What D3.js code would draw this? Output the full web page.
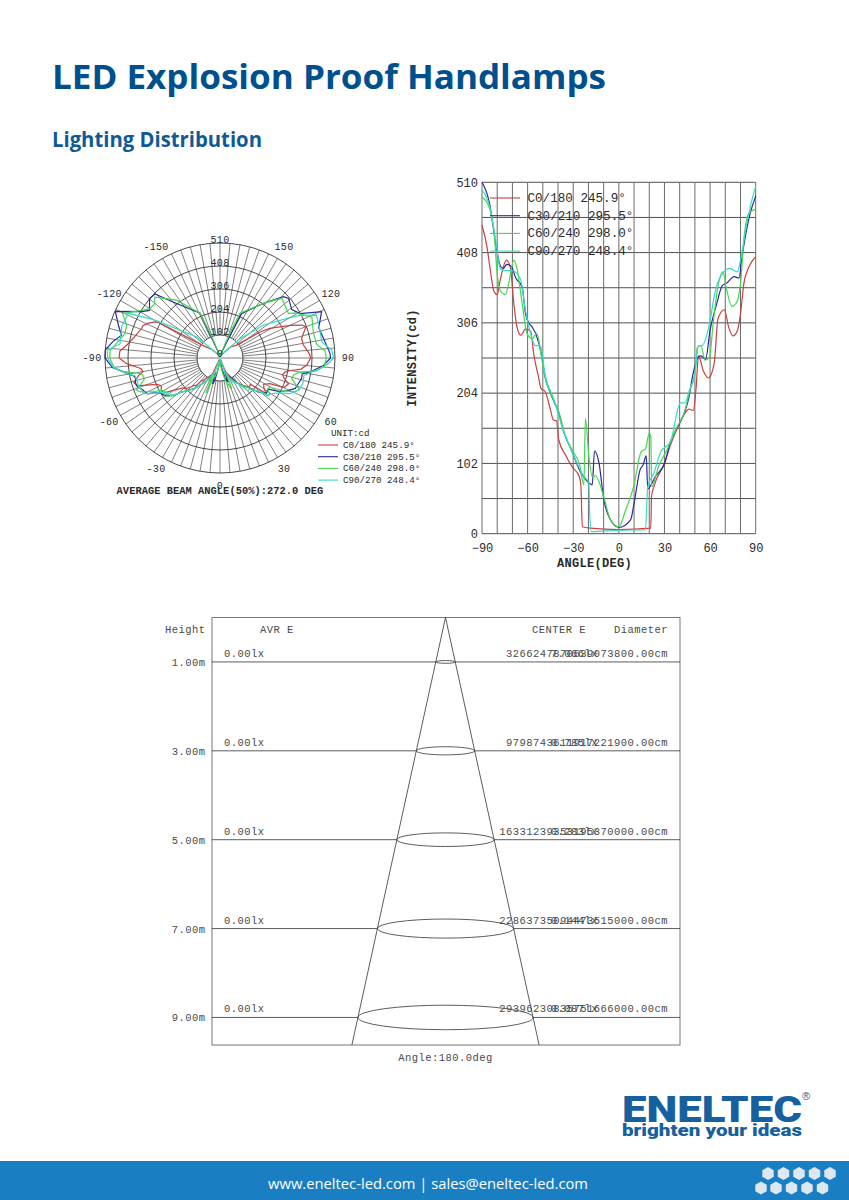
<!DOCTYPE html>
<html><head><meta charset="utf-8">
<script src="https://cdn.jsdelivr.net/npm/d3@7"></script>
<style>
html,body{margin:0;padding:0;background:#fff}
svg{display:block}
text{font-family:"Liberation Mono",monospace;fill:#2a2a2a}
</style></head><body>
<svg id="c" width="849" height="1200"></svg>
<script>
// ---------- data ----------
const seriesNames = ["C0/180 245.9°","C30/210 295.5°","C60/240 298.0°","C90/270 248.4°"];
const seriesColors = ["#c9403f","#2a2a9c","#45d650","#35dcc8"];
const intensityTicks = [0,102,204,306,408,510];
const intensityGrid = [0,51,102,153,204,255,306,357,408,459,510];
const angleTicks = [-90,-60,-30,0,30,60,90];
const angleGrid = [-90,-80,-70,-60,-50,-40,-30,-20,-10,0,10,20,30,40,50,60,70,80,90];

// Cartesian plot: angle -90..90
const anglesC0 = [-90,-86.7,-84.5,-82.3,-80,-78,-74,-71.4,-69,-67,-64.4,-61.5,-58,-56,-52.8,-51.2,-48.4,-45,-43,-41,-39.5,-35,-30.7,-26,-25,-24,-19,0,21,21.5,23,30,34,38.8,43.5,46,49,50.7,52.4,55.6,59,62.8,65.2,69.4,72.2,75,78,80,82.2,85.5,90];
const valuesC0 = [448,416,382,353,347,368,397,387,333,300,288,297,294,261,227,211,206,180,165,164,136,114,97,83,71,10,8,6,8,54,68,102,129,155,175,181,179,209,258,236,226,249,312,325,300,287,295,319,363,387,402];
const anglesC30 = [-90,-85,-81,-78,-76,-73.7,-70.4,-68,-63.6,-61.4,-59,-57,-53.8,-50.5,-49,-45,-39.5,-36,-30.7,-26,-23,-17.5,-16,-13,-10,-6.6,0,7.7,10,14,16,18,19,24,30,34,39.4,43,46,48,52.4,54,57,60,64.4,68,71,75.8,79,81,85.8,90];
const valuesC30 = [510,479,421,389,385,391,387,372,358,319,305,300,285,256,233,204,175,146,119,93,82,71,120,102,51,25,9,20,44,93,100,113,65,83,102,134,158,175,197,223,257,258,253,295,334,360,364,373,371,402,460,490];
const anglesC60 = [-90,-85,-82,-80,-78,-74.6,-72.5,-69,-67,-63.6,-60.3,-57,-54,-51,-49,-45,-39.5,-35,-29.5,-26,-23,-22,-19.7,-17.5,-15.3,-10,-5.5,0,4.4,10,14.7,17.5,20,21,21.6,26,31.7,38.3,43,46.8,50,51.5,54,56.7,59.6,62.2,65.5,68.4,71,74.3,77.5,80,82.4,85.5,90];
const valuesC60 = [489,472,436,377,353,347,363,397,385,334,290,283,291,258,231,204,177,141,117,102,71,167,112,83,84,54,20,10,34,71,119,123,146,141,68,97,122,155,175,209,232,270,273,252,256,309,363,380,353,330,336,363,431,465,471];
const anglesC90 = [-90,-85,-81,-78,-74.6,-70.4,-64.8,-61.4,-58,-55,-51.7,-48.4,-43,-37,-29.5,-23,-19.7,-19.2,-18,0,17.5,19,23,27.4,34,40.5,43.5,46.5,50,52.4,54.5,60,63,68,73,78,80,83,86.5,90];
const valuesC90 = [499,475,426,385,382,382,370,324,290,273,273,229,197,153,112,83,74,30,3,5,6,68,88,118,134,190,190,209,232,273,273,309,348,377,385,380,397,436,475,504];

// Polar plot, upper half: the -180..-90 and 90..180 parts
const upLeftAnglesC0 = [-180,-175,-137,-128,-120,-119,-116,-113,-111,-103,-99,-94];
const upLeftValuesC0 = [5,10,50,80,316,330,353,370,371,394,411,445];
const upRightAnglesC0 = [93,99,103.6,110,112,115,120.7,123,128,137,175,180];
const upRightValuesC0 = [396,374,372,406,390,343,257,214,93,65,10,5];
const upLeftAnglesC30 = [-180,-175,-156,-140,-134.6,-130,-124,-120.6,-114,-108,-103,-99,-94];
const upLeftValuesC30 = [5,12,217,324,405,408,377,404,508,474,448,479,510];
const upRightAnglesC30 = [92.4,99,107,114.5,119,124,131,134,141.6,154,156,176,180];
const upRightValuesC30 = [488,471,458,495,406,384,403,391,309,220,111,12,5];
const upLeftAnglesC60 = [-180,-175,-159,-156,-143,-133,-130,-125,-114.5,-109.5,-104.5,-98,-94];
const upLeftValuesC60 = [5,12,102,217,321,396,377,380,475,439,435,463,488];
const upRightAnglesC60 = [94,98,105,114,121,123,134,141.6,156,159,176,180];
const upRightValuesC60 = [467,433,429,446,389,362,381,309,217,102,12,5];
const upLeftAnglesC90 = [-180,-175,-132,-120,-116,-108,-98,-94];
const upLeftValuesC90 = [5,10,140,340,452,458,448,500];
const upRightAnglesC90 = [94,99,106,114,118,120,127,134,175,180];
const upRightValuesC90 = [497,457,460,468,402,360,241,123,10,5];

const polarAngleTicks = [0,30,60,90,120,150,-150,-120,-90,-60,-30];
const polarSpokes = d3.range(-180,180,5);

// Cone panel
const heights = [1,3,5,7,9];
const heightLabels = ["1.00m","3.00m","5.00m","7.00m","9.00m"];
const avgE = ["0.00lx","0.00lx","0.00lx","0.00lx","0.00lx"];
const centerE = ["7.066lx","0.785lx","0.283lx","0.144lx","0.087lx"];
const diameters = ["3266247870639073800.00cm","9798743611917221900.00cm","16331239353195370000.00cm","22863735094473515000.00cm","29396230835751666000.00cm"];
const coneRadiusPerMetre = 9.73;
const ellipseFlatness = 0.14;
const coneMaxHeight = 9.62;

// ---------- drawing ----------
const svg = d3.select("#c");
const cAng=[anglesC0,anglesC30,anglesC60,anglesC90], cVal=[valuesC0,valuesC30,valuesC60,valuesC90];
const ulA=[upLeftAnglesC0,upLeftAnglesC30,upLeftAnglesC60,upLeftAnglesC90], ulV=[upLeftValuesC0,upLeftValuesC30,upLeftValuesC60,upLeftValuesC90];
const urA=[upRightAnglesC0,upRightAnglesC30,upRightAnglesC60,upRightAnglesC90], urV=[upRightValuesC0,upRightValuesC30,upRightValuesC60,upRightValuesC90];
const zip=(a,v)=>a.map((d,i)=>({a:d,v:v[i]}));

// header
const head = "Open Sans, Noto Sans, sans-serif";
svg.append("text").attr("x",52).attr("y",89).text("LED Explosion Proof Handlamps")
  .style("font-family",head).style("font-weight",700).style("font-size","34px").style("fill","#00508f")
  .attr("textLength",554).attr("lengthAdjust","spacingAndGlyphs");
svg.append("text").attr("x",52).attr("y",147).text("Lighting Distribution")
  .style("font-family",head).style("font-weight",700).style("font-size","21.5px").style("fill","#0f5a96")
  .attr("textLength",210).attr("lengthAdjust","spacingAndGlyphs");

// ---- polar
const pc = {x:220,y:358};
const rS = d3.scaleLinear().domain([0,510]).range([0,115]);
const aS = d3.scaleLinear().domain([-180,180]).range([2*Math.PI,0]);
const pg = svg.append("g").attr("transform",`translate(${pc.x},${pc.y})`);
pg.selectAll("line.sp").data(polarSpokes).join("line")
  .attr("x1",d=>rS(102)*Math.sin(aS(d))).attr("y1",d=>-rS(102)*Math.cos(aS(d)))
  .attr("x2",d=>rS(510)*Math.sin(aS(d))).attr("y2",d=>-rS(510)*Math.cos(aS(d)))
  .attr("stroke","#4a4a4a").attr("stroke-width",.7);
pg.append("line").attr("x1",-rS(102)).attr("x2",rS(102)).attr("stroke","#444").attr("stroke-width",.7);
pg.selectAll("circle").data(intensityTicks.slice(1)).join("circle").attr("r",d=>rS(d))
  .attr("fill","none").attr("stroke","#333").attr("stroke-width",.9);
const radial = d3.lineRadial().angle(d=>aS(d.a)).radius(d=>rS(d.v));
[0,1,2,3].forEach(i=>{
  const pts = zip(ulA[i],ulV[i]).concat(zip(cAng[i],cVal[i]),zip(urA[i],urV[i]));
  pg.append("path").datum(pts).attr("d",radial).attr("fill","none").attr("stroke",seriesColors[i]).attr("stroke-width",1.2);
});
pg.selectAll("text.r").data(intensityTicks).join("text")
  .attr("x",0).attr("y",d=>-rS(d)+(d==0?-1:0)).attr("text-anchor","middle")
  .style("font-size","10px").style("letter-spacing",".3px").text(d=>d);
pg.selectAll("text.a").data(polarAngleTicks).join("text")
  .attr("x",d=>128*Math.sin(aS(d))).attr("y",d=>-128*Math.cos(aS(d))+3)
  .attr("text-anchor","middle").style("font-size","10px").style("letter-spacing",".3px").text(d=>d);
svg.append("text").attr("x",220).attr("y",494).attr("text-anchor","middle").style("font-size","10.4px").style("font-weight",700).style("letter-spacing",".03px")
  .text("AVERAGE BEAM ANGLE(50%):272.0 DEG");
svg.append("text").attr("x",331).attr("y",436).style("font-size","9.2px").text("UNIT:cd");
const pl = svg.append("g").selectAll("g").data(seriesNames).join("g").attr("transform",(d,i)=>`translate(318,${445+i*11.7})`);
pl.append("line").attr("x2",20).attr("stroke",(d,i)=>seriesColors[i]).attr("stroke-width",1.1);
pl.append("text").attr("x",25).attr("y",3).style("font-size","9.2px").text(d=>d);

// ---- cartesian
const x = d3.scaleLinear().domain([-90,90]).range([482,755.7]);
const y = d3.scaleLinear().domain([0,510]).range([533.7,182.3]);
const cg = svg.append("g");
cg.selectAll("line.h").data(intensityGrid).join("line").attr("x1",x(-90)).attr("x2",x(90)).attr("y1",y).attr("y2",y).attr("stroke","#3c3c3c").attr("stroke-width",.9);
cg.selectAll("line.v").data(angleGrid).join("line").attr("y1",y(0)).attr("y2",y(510)).attr("x1",x).attr("x2",x).attr("stroke","#6a6a6a").attr("stroke-width",1);
const axL = d3.axisLeft(y).tickValues(intensityTicks).tickSize(0).tickPadding(4);
const axB = d3.axisBottom(x).tickValues(angleTicks).tickSize(0).tickPadding(10);
const gl = svg.append("g").attr("transform",`translate(${x(-90)},0)`).call(axL);
const gb = svg.append("g").attr("transform",`translate(0,${y(0)})`).call(axB);
[gl,gb].forEach(g=>{g.select(".domain").remove();g.selectAll("text").style("font-family","Liberation Mono").style("font-size","12px").style("fill","#2a2a2a");});
const line = d3.line().x(d=>x(d.a)).y(d=>y(d.v)).curve(d3.curveMonotoneX);
[0,1,2,3].forEach(i=>cg.append("path").datum(zip(cAng[i],cVal[i])).attr("d",line).attr("fill","none").attr("stroke",seriesColors[i]).attr("stroke-width",1.2));
const cl = svg.append("g").selectAll("g").data(seriesNames).join("g").attr("transform",(d,i)=>`translate(490,${198+i*17.7})`);
cl.append("line").attr("x2",30).attr("stroke",(d,i)=>seriesColors[i]).attr("stroke-width",1.1);
cl.append("text").attr("x",37.5).attr("y",4).style("font-size","12.6px").text(d=>d);
svg.append("text").attr("x",594.5).attr("y",567).attr("text-anchor","middle").style("font-size","12px").style("font-weight",700).style("letter-spacing",".3px").text("ANGLE(DEG)");
svg.append("text").attr("transform","translate(416,358) rotate(-90)").attr("text-anchor","middle").style("font-size","12px").style("font-weight",700).style("letter-spacing",".3px").text("INTENSITY(cd)");

// ---- cone panel
const cx = 445.5;
const hS = d3.scaleLinear().domain([0,coneMaxHeight]).range([617.5,1045]);
const rad = h=>h*coneRadiusPerMetre;
const cone = svg.append("g");
cone.append("rect").attr("x",212).attr("y",hS(0)).attr("width",468).attr("height",hS(coneMaxHeight)-hS(0)).attr("fill","none").attr("stroke","#777").attr("stroke-width",1);
[-1,1].forEach(s=>cone.append("line").attr("x1",cx).attr("y1",hS(0)).attr("x2",cx+s*rad(coneMaxHeight)).attr("y2",hS(coneMaxHeight)).attr("stroke","#333").attr("stroke-width",.8));
const rows = cone.selectAll("g").data(heights).join("g");
rows.append("line").attr("x1",212).attr("x2",d=>cx-rad(d)).attr("y1",d=>hS(d)).attr("y2",d=>hS(d)).attr("stroke","#333").attr("stroke-width",.8);
rows.append("line").attr("x1",d=>cx+rad(d)).attr("x2",680).attr("y1",d=>hS(d)).attr("y2",d=>hS(d)).attr("stroke","#333").attr("stroke-width",.8);
rows.append("ellipse").attr("cx",cx).attr("cy",d=>hS(d)).attr("rx",rad).attr("ry",d=>rad(d)*ellipseFlatness).attr("fill","none").attr("stroke","#333").attr("stroke-width",.8);
const ts = s=>s.style("font-size","10.5px").style("letter-spacing",".45px").style("fill","#4a4a4a");
rows.append("text").attr("x",205.5).attr("y",d=>hS(d)+4).attr("text-anchor","end").text((d,i)=>heightLabels[i]).call(ts);
rows.append("text").attr("x",224).attr("y",d=>hS(d)-5).text((d,i)=>avgE[i]).call(ts);
rows.append("text").attr("x",598).attr("y",d=>hS(d)-5).attr("text-anchor","end").text((d,i)=>centerE[i]).call(ts);
rows.append("text").attr("x",668).attr("y",d=>hS(d)-5).attr("text-anchor","end").text((d,i)=>diameters[i]).call(ts);
svg.append("text").attr("x",205.5).attr("y",633).attr("text-anchor","end").text("Height").call(ts);
svg.append("text").attr("x",260).attr("y",633).text("AVR E").call(ts);
svg.append("text").attr("x",532).attr("y",633).text("CENTER E").call(ts);
svg.append("text").attr("x",668).attr("y",633).attr("text-anchor","end").text("Diameter").call(ts);
svg.append("text").attr("x",445.5).attr("y",1061).attr("text-anchor","middle").text("Angle:180.0deg").call(ts);

// ---- logo and footer
const logoBlue="#17609f";
svg.append("text").attr("x",622).attr("y",1122).text("ENELTEC").style("font-family","Roboto, Liberation Sans").style("font-weight",900).style("font-size","37px").style("fill",logoBlue)
  .attr("textLength",180).attr("lengthAdjust","spacingAndGlyphs");
svg.append("text").attr("x",622).attr("y",1136).text("brighten your ideas").style("font-family","Roboto, Liberation Sans").style("font-weight",900).style("font-size","17px").style("fill",logoBlue)
  .attr("textLength",180).attr("lengthAdjust","spacingAndGlyphs");
svg.append("text").attr("x",802).attr("y",1100).text("®").style("font-family","Liberation Sans").style("font-size","11px").style("fill",logoBlue);
svg.append("rect").attr("x",0).attr("y",1161).attr("width",849).attr("height",39).attr("fill","#1a7fc2");
svg.append("text").attr("x",428).attr("y",1189).attr("text-anchor","middle").text("www.eneltec-led.com | sales@eneltec-led.com")
  .style("font-family",head).style("font-size","15px").style("fill","#fff").attr("textLength",320).attr("lengthAdjust","spacingAndGlyphs");
const hexCentres = [[768,1173.5],[783.5,1173.5],[799,1173.5],[814.5,1173.5],[830,1173.5],[761,1188],[776,1188],[791.5,1188],[807,1188],[822.5,1188]];
const hexPath = (c)=>d3.range(6).map(k=>{const t=Math.PI/3*k;return [c[0]+6.6*Math.sin(t),c[1]+6.6*Math.cos(t)];});
svg.selectAll("path.hex").data(hexCentres).join("path").attr("class","hex").attr("fill","#dbe8f2")
  .attr("d",c=>d3.line()(hexPath(c))+"Z");
</script>
</body></html>
